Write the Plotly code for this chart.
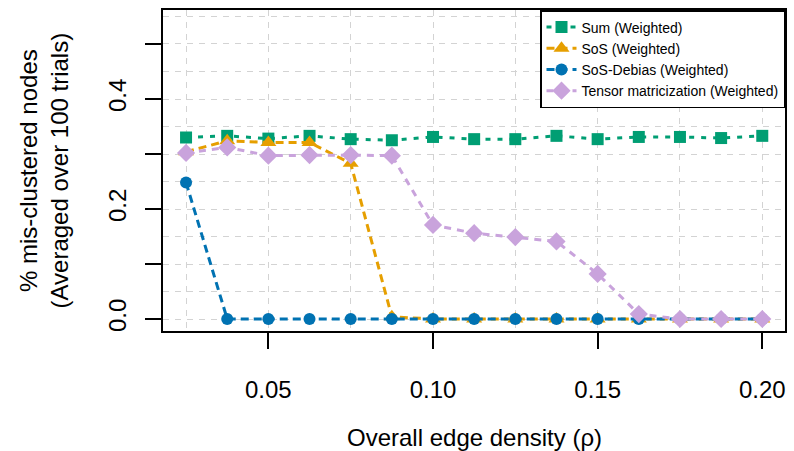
import plotly.graph_objects as go

# ---- data ----
density = [0.025, 0.0375, 0.05, 0.0625, 0.075, 0.0875, 0.1, 0.1125, 0.125,
           0.1375, 0.15, 0.1625, 0.175, 0.1875, 0.2]
sum_w = [0.330, 0.333, 0.328, 0.333, 0.327, 0.325, 0.331, 0.327, 0.327,
         0.333, 0.327, 0.331, 0.331, 0.329, 0.333]
sos_w = [0.304, 0.324, 0.321, 0.321, 0.283, 0.004, 0.0, 0.0, 0.0,
         0.0, 0.0, 0.0, 0.0, 0.0, 0.0]
debias_w = [0.248, 0.0, 0.0, 0.0, 0.0, 0.0, 0.0, 0.0, 0.0,
            0.0, 0.0, 0.0, 0.0, 0.0, 0.0]
tensor_w = [0.302, 0.312, 0.297, 0.298, 0.298, 0.297, 0.171, 0.156, 0.149,
            0.141, 0.082, 0.009, 0.0, 0.0, 0.0]

series_names = ["Sum (Weighted)", "SoS (Weighted)", "SoS-Debias (Weighted)",
                "Tensor matricization (Weighted)"]
x_tickvals = [0.05, 0.10, 0.15, 0.20]
x_ticktext = ["0.05", "0.10", "0.15", "0.20"]
y_tickvals = [0.0, 0.1, 0.2, 0.3, 0.4, 0.5]
y_ticktext = ["0.0", "", "0.2", "", "0.4", ""]

FONT = "Liberation Sans, Arial, sans-serif"

styles = [
    dict(color="#009E73", dash="5px,7px", symbol="square", size=12),
    dict(color="#E69F00", dash="8px,5px", symbol="triangle-up", size=14),
    dict(color="#0072B2", dash="8px,5px", symbol="circle", size=12),
    dict(color="#C9A3DC", dash="7px,6px", symbol="diamond", size=14),
]

fig = go.Figure()
for name, ys, st in zip(series_names, [sum_w, sos_w, debias_w, tensor_w], styles):
    fig.add_trace(go.Scatter(
        x=density, y=ys, name=name, mode="lines+markers",
        line=dict(color=st["color"], width=3, dash=st["dash"]),
        marker=dict(color=st["color"], symbol=st["symbol"], size=st["size"],
                    line=dict(width=0)),
    ))

grid_color = "#D3D3D3"
fig.update_xaxes(
    range=[0.018, 0.2069], tickvals=x_tickvals, ticktext=x_ticktext,
    ticks="outside", ticklen=16, tickwidth=1.5, tickcolor="black",
    showline=True, linecolor="black", linewidth=1.5, mirror=True,
    showgrid=True, gridcolor=grid_color, griddash="6px,6px", gridwidth=1,
    minor=dict(tick0=0.025, dtick=0.025, showgrid=True, gridcolor=grid_color,
               griddash="6px,6px", ticklen=0),
    zeroline=False, tickfont=dict(family=FONT, size=24, color="black"),
    ticklabelstandoff=20,
)
fig.update_yaxes(
    range=[-0.0218, 0.5618], tickvals=y_tickvals, ticktext=y_ticktext,
    ticks="outside", ticklen=16, tickwidth=1.5, tickcolor="black",
    showline=True, linecolor="black", linewidth=1.5, mirror=True,
    showgrid=True, gridcolor=grid_color, griddash="6px,6px", gridwidth=1,
    minor=dict(tick0=0.0, dtick=0.05, showgrid=True, gridcolor=grid_color,
               griddash="6px,6px", ticklen=0),
    zeroline=False, tickangle=-90, tickfont=dict(family=FONT, size=24, color="black"),
    ticklabelstandoff=10,
)

fig.add_annotation(
    text="% mis-clustered nodes<br>(Averaged over 100 trials)",
    xref="paper", yref="paper", x=0, y=0.5, xanchor="center", yanchor="middle",
    xshift=-120, textangle=-90, showarrow=False,
    font=dict(family=FONT, size=24, color="black"),
)
fig.add_annotation(
    text="Overall edge density (ρ)",
    xref="paper", yref="paper", x=0.5, y=0, xanchor="center", yanchor="middle",
    yshift=-106, showarrow=False,
    font=dict(family=FONT, size=24, color="black"),
)

fig.update_layout(
    width=794, height=451,
    margin=dict(l=163, r=7, t=10, b=120),
    paper_bgcolor="white", plot_bgcolor="white",
    font=dict(family=FONT, color="black"),
    showlegend=True,
    legend=dict(x=1, y=1, xanchor="right", yanchor="top",
                bordercolor="black", borderwidth=1.5, bgcolor="white",
                font=dict(family=FONT, size=14, color="black"),
                itemwidth=30, tracegroupgap=0),
)

fig.write_html("out.html")
